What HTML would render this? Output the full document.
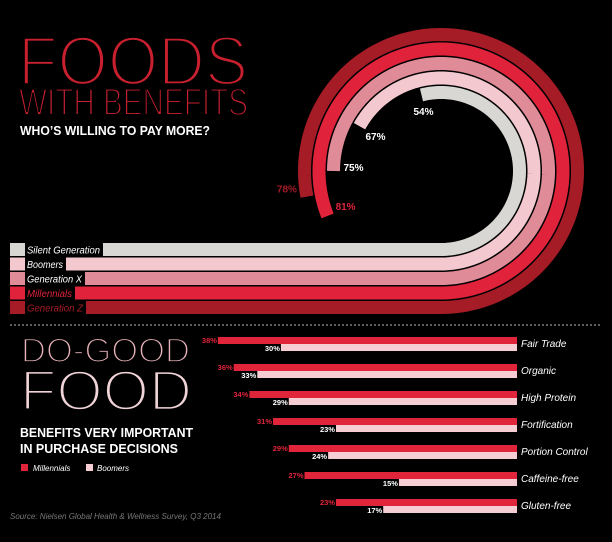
<!DOCTYPE html>
<html><head><meta charset="utf-8"><style>
html,body{margin:0;padding:0;background:#000;}
svg{display:block;}
text{font-family:"Liberation Sans",sans-serif;}
</style></head><body>
<svg id="c" width="612" height="542" viewBox="0 0 612 542" xmlns="http://www.w3.org/2000/svg">
<rect width="612" height="542" fill="#000"/>
<text x="18" y="85" font-size="70" fill="#c9202f" stroke="#000" stroke-width="3.4" textLength="230" lengthAdjust="spacingAndGlyphs">FOODS</text>
<text x="19" y="115" font-size="38" fill="#c9202f" stroke="#000" stroke-width="2" textLength="229" lengthAdjust="spacingAndGlyphs">WITH BENEFITS</text>
<text x="20" y="135" font-size="12.5" font-weight="bold" fill="#fff" textLength="190" lengthAdjust="spacingAndGlyphs">WHO’S WILLING TO PAY MORE?</text>
<g id="arcs"></g>
<line x1="10" y1="325" x2="600" y2="325" stroke="#bbb" stroke-width="1" stroke-dasharray="2,2"/>
<text x="21" y="362" font-size="34" fill="#e8b4ba" stroke="#000" stroke-width="1.8" textLength="169" lengthAdjust="spacingAndGlyphs">DO-GOOD</text>
<text x="20" y="410" font-size="57" fill="#f0d4d7" stroke="#000" stroke-width="2.8" textLength="172" lengthAdjust="spacingAndGlyphs">FOOD</text>
<text x="20" y="437" font-size="13" font-weight="bold" fill="#fff" textLength="173" lengthAdjust="spacingAndGlyphs">BENEFITS VERY IMPORTANT</text>
<text x="20" y="453" font-size="13" font-weight="bold" fill="#fff" textLength="158" lengthAdjust="spacingAndGlyphs">IN PURCHASE DECISIONS</text>
<rect x="21" y="464" width="7" height="7" fill="#e0253b"/>
<text x="33" y="471" font-size="8" font-style="italic" fill="#fff">Millennials</text>
<rect x="86" y="464" width="7" height="7" fill="#f5cdd2"/>
<text x="97" y="471" font-size="8" font-style="italic" fill="#fff">Boomers</text>
<text x="10" y="519" font-size="8" font-style="italic" fill="#777">Source: Nielsen Global Health &amp; Wellness Survey, Q3 2014</text>
<g id="bars"></g>
</svg>
<script>
const genNames = ["Silent Generation","Boomers","Generation X","Millennials","Generation Z"];
const genValues = [54, 67, 75, 81, 78];
const genColors = ["#d9d7d3","#f3c9cf","#e08c98","#e0233b","#a61c26"];
const genLabelColors = ["#fff","#fff","#fff","#e0233b","#a61c26"];
const categories = ["Fair Trade","Organic","High Protein","Fortification","Portion Control","Caffeine-free","Gluten-free"];
const millennials = [38, 36, 34, 31, 29, 27, 23];
const boomers = [30, 33, 29, 23, 24, 15, 17];

const NS = "http://www.w3.org/2000/svg";
function mk(tag, attrs, parent){const e=document.createElementNS(NS,tag);for(const k in attrs)e.setAttribute(k,attrs[k]);parent.appendChild(e);return e;}

const cx=441, cy=171, r0=78.5, pitch=14.5, bw=13;
const labelEnds=[103,66,85,75,86];
const arcs=document.getElementById('arcs');
function arcPoint(r,pct){const th=(-90+pct*3.6)*Math.PI/180;return [cx+r*Math.cos(th), cy-r*Math.sin(th)];}
function arcPath(r,pct){
  let d=`M10 ${cy+r} L${cx} ${cy+r}`;
  const n=Math.max(2,Math.round(pct*2));
  for(let i=1;i<=n;i++){const p=arcPoint(r,pct*i/n);d+=` L${p[0].toFixed(2)} ${p[1].toFixed(2)}`;}
  return d;
}
const lblDx=[-8,6,10,8,-10];
const lblDy=[20,14,0,-6,-4];
genValues.forEach((v,i)=>{
  const r=r0+pitch*i;
  const o=mk('path',{d:arcPath(r,v),fill:'none',stroke:'#000','stroke-width':bw+2},arcs);
  
  
  const p=mk('path',{d:arcPath(r,v),fill:'none',stroke:genColors[i],'stroke-width':bw},arcs);
  
  
  const y=cy+r;
  const b=mk('rect',{x:25,y:y-bw/2,width:labelEnds[i]-25,height:bw,fill:'#000'},arcs);
  
  
  const t=mk('text',{x:27,y:y+4,'font-size':10,'font-style':'italic',fill:genLabelColors[i],textLength:labelEnds[i]-30,lengthAdjust:'spacingAndGlyphs'},arcs);
  t.textContent=genNames[i];
  
  
  const e=arcPoint(r,v);
  const anchor = i===4 ? 'end' : 'start';
  const pt=mk('text',{x:e[0]+lblDx[i],y:e[1]+lblDy[i],'font-size':10,'font-weight':'bold','text-anchor':anchor,fill:genLabelColors[i]},arcs);
  pt.textContent=v+'%';
  
  
});

const bars=document.getElementById('bars');
const xRight=517, pxPer=7.87, y0=337, rowH=27, bh=7;
function xs(v){return xRight-v*pxPer;}
categories.forEach((c,i)=>{
  const y=y0+rowH*i;
  const m=mk('rect',{x:xs(millennials[i]),y:y,width:xRight-xs(millennials[i]),height:bh,fill:'#e0253b'},bars);
  
  
  const b=mk('rect',{x:xs(boomers[i]),y:y+bh,width:xRight-xs(boomers[i]),height:bh,fill:'#f5cdd2'},bars);
  
  
  const mt=mk('text',{x:xs(millennials[i])-1,y:y+6,'font-size':7.5,'font-weight':'bold','text-anchor':'end',fill:'#e0253b'},bars);
  mt.textContent=millennials[i]+'%';
  
  
  const bt=mk('text',{x:xs(boomers[i])-1,y:y+bh+7,'font-size':7.5,'font-weight':'bold','text-anchor':'end',fill:'#fff'},bars);
  bt.textContent=boomers[i]+'%';
  
  
  const ct=mk('text',{x:521,y:y+10,'font-size':10,'font-style':'italic',fill:'#fff'},bars);
  ct.textContent=c;
  
  
});
</script>
</body></html>
